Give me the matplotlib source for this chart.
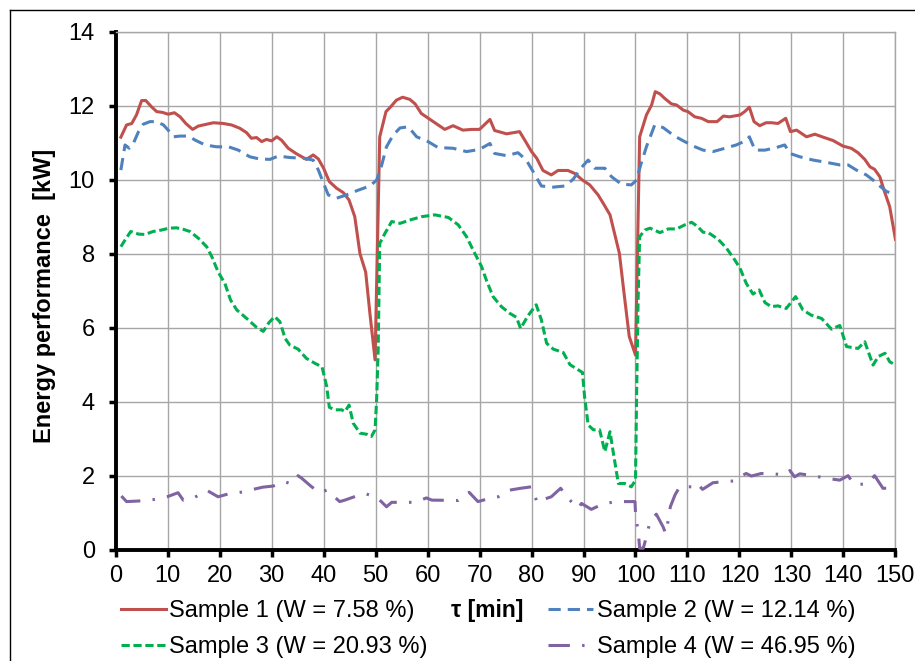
import numpy as np
import matplotlib
matplotlib.use("Agg")
import matplotlib.pyplot as plt
from matplotlib.lines import Line2D

plt.rcParams['font.family'] = ['Liberation Sans', 'DejaVu Sans']

# (time [min], energy performance [kW])
sample1 = [
    (1, 11.15), (2.1, 11.48), (3.1, 11.52), (4, 11.75), (5, 12.14), (5.8, 12.14),
    (6.9, 11.97), (7.9, 11.84), (9, 11.82), (10.1, 11.77), (11.3, 11.81), (12.4, 11.7),
    (13.5, 11.52), (14.8, 11.36), (15.9, 11.45), (17.5, 11.5), (18.8, 11.54), (20.7, 11.52),
    (22.3, 11.48), (23.9, 11.39), (25.2, 11.27), (26.1, 11.12), (27.1, 11.14), (28.1, 11.03),
    (29, 11.09), (30, 11.05), (31, 11.16), (31.9, 11.07), (33.2, 10.85), (34.8, 10.7),
    (36.7, 10.55), (38, 10.67), (39, 10.56), (40, 10.31), (41.1, 9.95), (42.5, 9.77),
    (43.8, 9.65), (44.9, 9.45), (46, 9.0), (47, 8.0), (48.1, 7.5), (48.9, 6.4), (49.9, 5.13),
    (50.8, 11.16), (52, 11.84), (52.9, 11.97), (54, 12.15), (55.2, 12.23), (56.6, 12.17),
    (57.6, 12.05), (58.8, 11.79), (61.1, 11.57), (63.3, 11.36), (64.9, 11.46), (66.8, 11.34),
    (68.5, 11.36), (70, 11.36), (72, 11.63), (72.9, 11.33), (75.2, 11.24), (77.7, 11.3),
    (78.7, 11.07), (80, 10.76), (81, 10.58), (82.2, 10.25), (83.8, 10.13), (85.1, 10.25),
    (87, 10.25), (88.3, 10.17), (89.8, 9.99), (91.2, 9.86), (92.8, 9.59), (93.8, 9.36),
    (95.1, 9.05), (96.9, 8.01), (97.8, 6.93), (98.8, 5.76), (100, 5.26), (100.8, 11.16),
    (102.1, 11.75), (103.1, 12.02), (103.8, 12.38), (104.7, 12.32), (105.6, 12.2),
    (106.9, 12.05), (107.9, 12.02), (109.2, 11.88), (110.1, 11.84), (111.4, 11.7),
    (112.7, 11.66), (114, 11.57), (115.7, 11.57), (116.9, 11.72), (118.1, 11.7),
    (120.1, 11.75), (121, 11.84), (121.9, 11.96), (122.8, 11.57), (123.9, 11.46),
    (125.1, 11.54), (126.2, 11.54), (127.4, 11.52), (128.9, 11.66), (129.8, 11.3),
    (131, 11.34), (132.9, 11.16), (134.5, 11.23), (136.1, 11.15), (138, 11.06),
    (139.9, 10.91), (141.5, 10.85), (142.8, 10.73), (144.1, 10.55), (145.1, 10.35),
    (146, 10.28), (147, 10.08), (147.9, 9.68), (148.9, 9.27), (150, 8.39),
]

sample2 = [
    (1, 10.26), (1.8, 10.94), (2.6, 10.85), (3.4, 10.98), (4.4, 11.3), (5.3, 11.5),
    (6.6, 11.57), (7.9, 11.57), (9.2, 11.48), (10.1, 11.34), (11.1, 11.16), (12.4, 11.18),
    (14, 11.18), (15.3, 11.07), (17.2, 10.94), (19.4, 10.89), (21.7, 10.89), (23.6, 10.8),
    (25.8, 10.62), (27.7, 10.56), (29.7, 10.55), (31.3, 10.64), (33.5, 10.6), (36.1, 10.58),
    (38, 10.53), (39, 10.26), (40, 9.9), (40.9, 9.59), (42.5, 9.5), (44.4, 9.59),
    (46.7, 9.72), (48.9, 9.83), (50.2, 9.99), (51, 10.3), (52.1, 10.89), (53.4, 11.21),
    (54.7, 11.4), (56.3, 11.43), (57.9, 11.16), (60.1, 11.03), (62, 10.87), (64.9, 10.85),
    (67.5, 10.76), (70, 10.82), (72, 10.98), (72.9, 10.71), (75.2, 10.65), (77.4, 10.73),
    (79, 10.53), (80.3, 10.22), (81.9, 9.83), (84.2, 9.8), (86.4, 9.83), (88, 10.01),
    (89.6, 10.33), (90.9, 10.53), (92.2, 10.31), (94.1, 10.31), (95.4, 10.08), (97.3, 9.88),
    (99.2, 9.86), (100.2, 9.99), (101, 10.4), (102.1, 10.89), (103.7, 11.48), (105.3, 11.41),
    (107.5, 11.18), (109.2, 11.05), (111.1, 10.91), (113, 10.8), (114.9, 10.76),
    (117.2, 10.85), (119.4, 10.94), (121.3, 11.06), (121.9, 11.16), (123, 10.8),
    (124.9, 10.8), (127.1, 10.87), (128.7, 10.94), (129.7, 10.71), (131.6, 10.62),
    (134.2, 10.53), (136.7, 10.47), (139.3, 10.4), (140.9, 10.4), (142.5, 10.26),
    (144.4, 10.13), (145.7, 9.99), (147, 9.83), (148.3, 9.68), (150, 9.6),
]

sample3 = [
    (1, 8.19), (1.8, 8.37), (2.9, 8.6), (4.4, 8.53), (5.6, 8.52), (7.2, 8.6), (8.8, 8.64),
    (10.3, 8.69), (11.7, 8.7), (13, 8.66), (14.3, 8.6), (15.9, 8.42), (17.5, 8.19),
    (18.5, 7.92), (19.7, 7.51), (21, 7.2), (22.1, 6.75), (23.3, 6.48), (25.2, 6.25),
    (27.1, 6.01), (28.4, 5.9), (29.5, 6.14), (30.6, 6.3), (31.6, 6.16), (32.6, 5.71),
    (33.5, 5.53), (35.1, 5.42), (36.7, 5.17), (38.3, 5.04), (39.7, 4.94), (40.6, 4.41),
    (41.1, 3.85), (42.2, 3.78), (43.5, 3.78), (44.1, 3.73), (44.9, 3.91), (45.7, 3.42),
    (47, 3.15), (48.3, 3.12), (49.2, 3.06), (49.9, 3.24), (50.2, 4.05), (50.5, 5.4),
    (50.8, 8.28), (51.8, 8.55), (53.1, 8.87), (54.7, 8.82), (56.6, 8.91), (58.8, 9.0),
    (61.4, 9.05), (64, 8.98), (65.9, 8.78), (67.5, 8.46), (68.9, 8.06), (70.4, 7.65),
    (71.3, 7.29), (72.6, 6.84), (74.2, 6.57), (75.8, 6.39), (77.1, 6.28), (77.9, 5.98),
    (79.3, 6.32), (80.9, 6.62), (81.9, 6.21), (82.9, 5.58), (84.2, 5.42), (86.1, 5.33),
    (87.4, 5.0), (89.8, 4.79), (90.2, 4.14), (90.9, 3.37), (91.9, 3.24), (93.1, 3.24),
    (94.1, 2.65), (95.1, 3.19), (95.7, 2.65), (96.7, 1.79), (97.9, 1.79), (99.2, 1.7),
    (100, 1.88), (100.2, 4.05), (100.5, 6.75), (100.8, 8.46), (101.8, 8.64), (102.8, 8.69),
    (104.7, 8.57), (106.3, 8.67), (107.9, 8.67), (109.5, 8.78), (110.8, 8.85), (112, 8.73),
    (113, 8.58), (114, 8.57), (115.9, 8.39), (117.5, 8.15), (119.1, 7.83), (120.1, 7.61),
    (121.3, 7.2), (122.6, 6.91), (123.8, 7.02), (124.9, 6.68), (126.1, 6.57), (127.4, 6.59),
    (129, 6.52), (130.8, 6.84), (132.2, 6.48), (133.8, 6.34), (135.8, 6.25), (137.7, 5.96),
    (139.3, 6.06), (140.6, 5.49), (142.8, 5.44), (144.1, 5.62), (145.7, 4.99), (146.7, 5.22),
    (148, 5.31), (148.9, 5.08), (150, 4.99),
]

sample4 = [
    (1.1, 1.45), (2.1, 1.3), (5, 1.32), (7.6, 1.36), (9.9, 1.43), (12, 1.54), (13, 1.34),
    (14.6, 1.36), (15.4, 1.43), (17.6, 1.6), (19.7, 1.43), (22, 1.52), (24.5, 1.56),
    (25.8, 1.61), (28.3, 1.69), (30.3, 1.72), (32.4, 1.84), (33.8, 1.78), (35.1, 2.0),
    (35.8, 1.93), (37.7, 1.7), (39.3, 1.54), (40.6, 1.61), (43.1, 1.3), (44.1, 1.34),
    (45.7, 1.42), (47.9, 1.52), (50.1, 1.42), (51.1, 1.3), (52.1, 1.16), (53.1, 1.28),
    (57.6, 1.28), (59.8, 1.4), (60.8, 1.34), (65.9, 1.33), (68, 1.55), (69.7, 1.3),
    (70.7, 1.34), (73.6, 1.43), (75.8, 1.61), (77.9, 1.66), (80, 1.7), (81.1, 1.27),
    (81.9, 1.34), (83.8, 1.43), (85.6, 1.66), (87, 1.39), (89, 1.12), (89.6, 1.25),
    (91.5, 1.09), (93.8, 1.24), (96.3, 1.3), (99.9, 1.3), (100.05, 0.85), (100.5, 0.53),
    (100.8, 0.04), (101.5, 0.04), (102.1, 0.35), (102.8, 0.76), (104, 0.96), (105.3, 0.62),
    (105.8, 0.44), (106.3, 0.8), (106.7, 1.16), (107.6, 1.48), (108.5, 1.7), (110.8, 1.7),
    (111.7, 1.81), (112.9, 1.63), (114.9, 1.81), (117.2, 1.84), (119.1, 1.86), (120, 1.97),
    (121.3, 2.06), (122.3, 1.99), (124.2, 2.06), (126.5, 2.05), (128.7, 2.02),
    (129.7, 2.14), (130.6, 1.97), (131.6, 2.05), (134.2, 2.0), (136.7, 1.93),
    (139.3, 1.88), (140.9, 2.0), (142, 1.77), (144.4, 1.77), (146, 2.0), (147.6, 1.66),
    (150, 1.66),
]

labels = ["Sample 1 (W = 7.58 %)", "Sample 2 (W = 12.14 %)",
          "Sample 3 (W = 20.93 %)", "Sample 4 (W = 46.95 %)"]
colors = ["#C0504D", "#4F81BD", "#00B050", "#8064A2"]
styles = ["-", (0, (4, 2.3)), (0, (2.7, 1.2)), (0, (7, 4, 0.8, 4))]

fig = plt.figure(figsize=(9.15, 6.61), dpi=100)
ax = fig.add_axes([0.1264, 0.1684, 0.8522, 0.7836])

handles = []
for data, lab, col, ls in zip([sample1, sample2, sample3, sample4], labels, colors, styles):
    arr = np.array(data)
    h, = ax.plot(arr[:, 0], arr[:, 1], color=col, linestyle=ls, lw=2.2, label=lab,
                 solid_joinstyle='round', zorder=3)
    handles.append(h)

ax.set_xlim(0, 150)
ax.set_ylim(0, 14)
ax.set_xticks(np.arange(0, 151, 10))
ax.set_yticks(np.arange(0, 15, 2))
ax.grid(True, color="#A6A6A6", lw=1)
ax.set_axisbelow(True)

for side in ["left", "bottom"]:
    ax.spines[side].set_linewidth(2.8)
    ax.spines[side].set_color("black")
for side in ["top", "right"]:
    ax.spines[side].set_linewidth(1)
    ax.spines[side].set_color("#A6A6A6")

ax.tick_params(axis="both", direction="out", length=5, width=2.5, labelsize=17)
ax.tick_params(axis="y", pad=10)
ax.tick_params(axis="x", pad=6)

fig.text(45 / 915, 1 - 296 / 661, "Energy performance  [kW]", rotation=90,
         ha="center", va="center", fontsize=17, fontweight="bold")
fig.text(487 / 915, 1 - 611 / 661, "τ [min]", ha="center", va="center",
         fontsize=16.5, fontweight="bold")

# legend: row 1 = samples 1 and 2, row 2 = samples 3 and 4
order = [0, 2, 1, 3]
fig.legend([handles[i] for i in order], [labels[i] for i in order], ncol=2,
           loc="upper left", bbox_to_anchor=(121 / 915, 1 - 600 / 661),
           frameon=False, fontsize=17, borderpad=0, borderaxespad=0,
           handlelength=1.9, handletextpad=0.15, columnspacing=5.1, labelspacing=0.6)

# outer chart border (left and top edges visible)
fig.add_artist(Line2D([10 / 915, 10 / 915], [0, 1 - 10 / 661], color="black", lw=1))
fig.add_artist(Line2D([10 / 915, 1], [1 - 10 / 661, 1 - 10 / 661], color="black", lw=1))

fig.savefig("out.png", dpi=100)
